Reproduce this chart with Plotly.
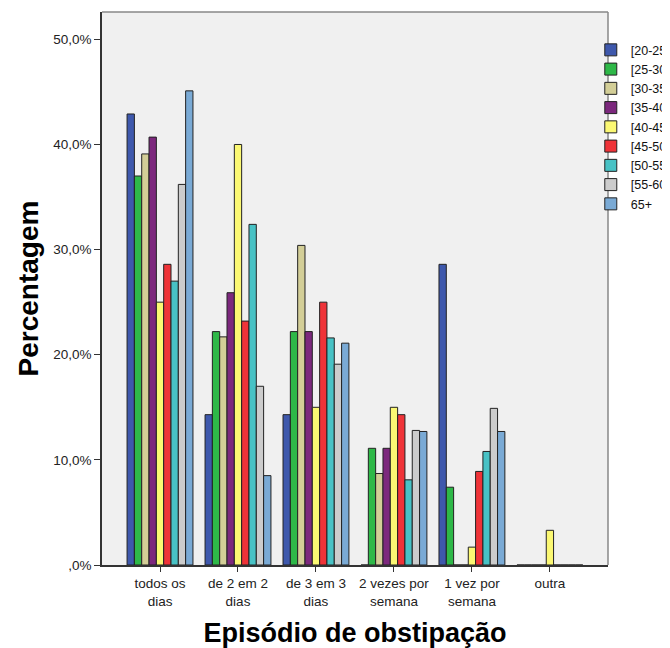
import plotly.graph_objects as go

categories = ["todos os<br>dias", "de 2 em 2<br>dias", "de 3 em 3<br>dias",
              "2 vezes por<br>semana", "1 vez por<br>semana", "outra"]

series_names = ["[20-25[", "[25-30[", "[30-35[", "[35-40[", "[40-45[",
                "[45-50[", "[50-55[", "[55-60[", "65+"]

v_20_25 = [42.9, 14.3, 14.3, 0.0, 28.6, 0.0]
v_25_30 = [37.0, 22.2, 22.2, 11.1, 7.4, 0.0]
v_30_35 = [39.1, 21.7, 30.4, 8.7, 0.0, 0.0]
v_35_40 = [40.7, 25.9, 22.2, 11.1, 0.0, 0.0]
v_40_45 = [25.0, 40.0, 15.0, 15.0, 1.7, 3.3]
v_45_50 = [28.6, 23.2, 25.0, 14.3, 8.9, 0.0]
v_50_55 = [27.0, 32.4, 21.6, 8.1, 10.8, 0.0]
v_55_60 = [36.2, 17.0, 19.1, 12.8, 14.9, 0.0]
v_65 = [45.1, 8.5, 21.1, 12.7, 12.7, 0.0]

series_values = [v_20_25, v_25_30, v_30_35, v_35_40, v_40_45,
                 v_45_50, v_50_55, v_55_60, v_65]

colors = ["#3E58AC", "#2EB848", "#D3CE97", "#7C287D", "#FBF873",
          "#EF3338", "#48C2C5", "#CCCCCC", "#7AAAD5"]

y_tickvals = [0, 10, 20, 30, 40, 50]
y_ticktext = [",0%", "10,0%", "20,0%", "30,0%", "40,0%", "50,0%"]

fig = go.Figure()
for name, vals, col in zip(series_names, series_values, colors):
    fig.add_trace(go.Bar(
        name=name, x=categories, y=vals,
        marker=dict(color=col, line=dict(color="#222222", width=1)),
    ))

fig.update_layout(
    width=670, height=640,
    barmode="group", bargap=0.155, bargroupgap=0,
    paper_bgcolor="white", plot_bgcolor="#F0F0F0",
    margin=dict(l=94, r=70, t=4, b=83, autoexpand=False),
    font=dict(family="Liberation Sans, Arial, sans-serif", size=13, color="#222222"),
    legend=dict(
        x=0.966, y=0.958, xanchor="left", yanchor="top",
        bgcolor="rgba(0,0,0,0)", borderwidth=0,
        font=dict(size=12.5, color="#111111"),
        tracegroupgap=0,
    ),
    showlegend=True,
)

fig.update_xaxes(
    range=[-0.744, 5.745], showgrid=False, zeroline=False,
    showline=True, linecolor="#333333", linewidth=1.5,
    ticks="outside", ticklen=5, tickcolor="#333333",
    tickfont=dict(size=13.5, color="#222222"),
    title=dict(text="<b>Episódio de obstipação</b>", font=dict(size=27, color="#000000"), standoff=16),
)
fig.update_yaxes(
    range=[0, 52.6], showgrid=False, zeroline=False,
    showline=True, linecolor="#333333", linewidth=1.5,
    ticks="outside", ticklen=6, tickcolor="#333333",
    tickvals=y_tickvals, ticktext=y_ticktext,
    tickfont=dict(size=13.5, color="#222222"),
    title=dict(text="<b>Percentagem</b>", font=dict(size=28, color="#000000"), standoff=6),
)

# grey frame on top and right
fig.add_shape(type="line", xref="paper", yref="paper", x0=0, x1=1, y0=1, y1=1,
              line=dict(color="#888888", width=1.5))
fig.add_shape(type="line", xref="paper", yref="paper", x0=1, x1=1, y0=0, y1=1,
              line=dict(color="#888888", width=1.5))

fig.write_html("out.html")
